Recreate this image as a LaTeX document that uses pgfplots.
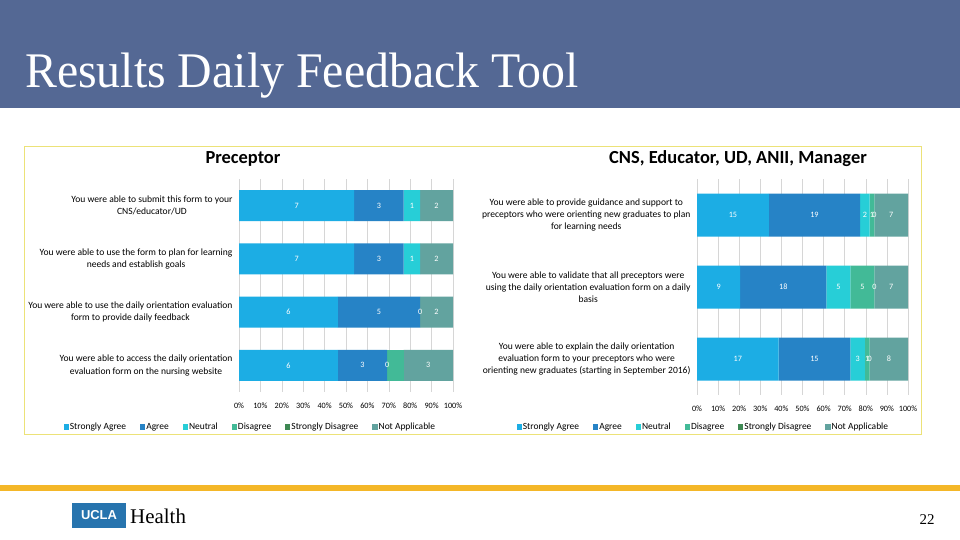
\documentclass[border=0pt]{standalone}
\usepackage{fontspec}
\setmainfont{Liberation Serif}
\newfontfamily\calibri{Carlito}
\newfontfamily\arial{Liberation Sans}
\usepackage{pgfplots}
\usepackage{pgfplotstable}
\pgfplotsset{compat=1.18}

\definecolor{banner}{RGB}{84,104,148}
\definecolor{gold}{RGB}{244,183,40}
\definecolor{frameyel}{RGB}{236,226,120}
\definecolor{uclablue}{RGB}{39,116,174}
\definecolor{cSA}{HTML}{1CADE4}
\definecolor{cA}{HTML}{2683C6}
\definecolor{cN}{HTML}{27CED7}
\definecolor{cD}{HTML}{42BA97}
\definecolor{cSD}{HTML}{3E8853}
\definecolor{cNA}{HTML}{62A39F}

% answer counts, questions numbered from the top
\pgfplotstableread{
q sa a n d sd na
0 7 3 1 0 0 2
1 7 3 1 0 0 2
2 6 5 0 0 0 2
3 6 3 0 1 0 3
}\precdata

\pgfplotstableread{
q sa a n d sd na
0 15 19 2 1 0 7
1 9 18 5 5 0 7
2 17 15 3 1 0 8
}\cnsdata

\tikzset{lblfont/.style={anchor=center, text=white, font=\calibri\fontsize{8.2}{9}\selectfont}}

\pgfplotsset{
  likert/.style={
    xbar stacked, scale only axis, y dir=reverse,
    xmin=0, ymin=-0.5,
    /pgf/number format/assume math mode=true,
    axis line style={draw=none}, tick style={draw=none},
    xmajorgrids, major grid style={draw=black!16, line width=0.6bp},
    xticklabel style={font=\calibri\fontsize{8.2}{9}\selectfont, yshift=-7bp},
    yticklabel style={font=\calibri\fontsize{9.6}{12.3}\selectfont, align=center, xshift=-3bp},
    legend columns=6,
    legend style={draw=none, fill=none, anchor=center,
      font=\calibri\fontsize{9.5}{10}\selectfont,
      nodes={inner sep=1bp},
      /tikz/every even column/.append style={column sep=13bp}},
    legend image code/.code={\fill[##1] (0bp,-2.6bp) rectangle (5.2bp,2.6bp);},
  },
  % second pass: the same stacks, invisible, carrying only the value labels
  labelpass/.style={likert, hide axis},
  lbl/.style={
    draw=none, fill=none,
    nodes near coords, point meta=explicit,
    nodes near coords={\pgfmathprintnumber{\pgfplotspointmeta}},
    every node near coord/.append style={lblfont},
  },
  nolbl/.style={draw=none, fill=none},
  % zero answers: labels at the stack boundary where the empty segment sits
  zeropass/.style={scale only axis, y dir=reverse, xmin=0, ymin=-0.5, hide axis,
    /pgf/number format/assume math mode=true},
  zerolbl/.style={draw=none, mark=none, nodes near coords, point meta=explicit,
    nodes near coords={\pgfmathprintnumber{\pgfplotspointmeta}},
    every node near coord/.append style={lblfont}},
}

\begin{document}
\begin{tikzpicture}
\useasboundingbox (0,0) rectangle (960bp,540bp);
\fill[white] (0,0) rectangle (960bp,540bp);
\fill[banner] (0,432bp) rectangle (960bp,540bp);
\node[anchor=base west, inner sep=0, text=white, font=\fontsize{50}{60}\selectfont, xscale=0.96]
  at (25bp,452bp) {Results Daily Feedback Tool};

\draw[frameyel, line width=1bp] (24bp,105bp) rectangle (921bp,393bp);
\node[font=\calibri\bfseries\fontsize{18.5}{20}\selectfont] at (243bp,381bp) {Preceptor};
\node[font=\calibri\bfseries\fontsize{18.5}{20}\selectfont] at (738bp,381bp) {CNS, Educator, UD, ANII, Manager};

% ---------- Preceptor ----------
\pgfplotsset{precgeom/.style={
  at={(239bp,148bp)}, anchor=south west,
  width=214bp, height=213bp, bar width=31bp,
  xmax=13, ymax=3.5}}
\begin{axis}[likert, precgeom,
  xtick={0,1.3,2.6,3.9,5.2,6.5,7.8,9.1,10.4,11.7,13},
  xticklabels={0\%,10\%,20\%,30\%,40\%,50\%,60\%,70\%,80\%,90\%,100\%},
  ytick={0,1,2,3},
  yticklabels={{You were able to submit this form to your\\CNS/educator/UD},
    {You were able to use the form to plan for learning\\needs and establish goals},
    {You were able to use the daily orientation evaluation\\form to provide daily feedback},
    {You were able to access the daily orientation\\evaluation form on the nursing website}},
  legend style={at={(0.051,-0.164)}},
]
\addplot[fill=cSA, draw=none] table[x=sa, y=q] {\precdata};
\addplot[fill=cA, draw=none] table[x=a, y=q] {\precdata};
\addplot[fill=cN, draw=none] table[x=n, y=q] {\precdata};
\addplot[fill=cD, draw=none] table[x=d, y=q] {\precdata};
\addplot[fill=cSD, draw=none] table[x=sd, y=q] {\precdata};
\addplot[fill=cNA, draw=none] table[x=na, y=q] {\precdata};
\legend{Strongly Agree, Agree, Neutral, Disagree, Strongly Disagree, Not Applicable}
\end{axis}
\begin{axis}[labelpass, precgeom]
\addplot[lbl] table[x=sa, y=q, meta=sa] {\precdata};
\addplot[lbl] table[x=a, y=q, meta=a] {\precdata};
\addplot[lbl] table[x=n, y=q, meta=n] {\precdata};
\addplot[nolbl] table[x=d, y=q] {\precdata};
\addplot[nolbl] table[x=sd, y=q] {\precdata};
\addplot[lbl] table[x=na, y=q, meta=na] {\precdata};
\end{axis}
\begin{axis}[zeropass, precgeom]
% Neutral = 0 for questions 3 and 4
\addplot[zerolbl] coordinates {(11,2) [0] (9,3) [0]};
\end{axis}

% ---------- CNS, Educator, UD, ANII, Manager ----------
\pgfplotsset{cnsgeom/.style={
  at={(697bp,145bp)}, anchor=south west,
  width=211bp, height=216bp, bar width=43bp,
  xmax=44, ymax=2.5}}
\begin{axis}[likert, cnsgeom,
  xtick={0,4.4,8.8,13.2,17.6,22,26.4,30.8,35.2,39.6,44},
  xticklabels={0\%,10\%,20\%,30\%,40\%,50\%,60\%,70\%,80\%,90\%,100\%},
  ytick={0,1,2},
  yticklabels={{You were able to provide guidance and support to\\preceptors who were orienting new graduates to plan\\for learning needs},
    {You were able to validate that all preceptors were\\using the daily orientation evaluation form on a daily\\basis},
    {You were able to explain the daily orientation\\evaluation form to your preceptors who were\\orienting new graduates (starting in September 2016)}},
  legend style={at={(0.028,-0.148)}},
]
\addplot[fill=cSA, draw=none] table[x=sa, y=q] {\cnsdata};
\addplot[fill=cA, draw=none] table[x=a, y=q] {\cnsdata};
\addplot[fill=cN, draw=none] table[x=n, y=q] {\cnsdata};
\addplot[fill=cD, draw=none] table[x=d, y=q] {\cnsdata};
\addplot[fill=cSD, draw=none] table[x=sd, y=q] {\cnsdata};
\addplot[fill=cNA, draw=none] table[x=na, y=q] {\cnsdata};
\legend{Strongly Agree, Agree, Neutral, Disagree, Strongly Disagree, Not Applicable}
\end{axis}
\begin{axis}[labelpass, cnsgeom]
\addplot[lbl] table[x=sa, y=q, meta=sa] {\cnsdata};
\addplot[lbl] table[x=a, y=q, meta=a] {\cnsdata};
\addplot[lbl] table[x=n, y=q, meta=n] {\cnsdata};
\addplot[lbl] table[x=d, y=q, meta=d] {\cnsdata};
\addplot[nolbl] table[x=sd, y=q] {\cnsdata};
\addplot[lbl] table[x=na, y=q, meta=na] {\cnsdata};
\end{axis}
\begin{axis}[zeropass, cnsgeom]
% Strongly Disagree = 0 for all three questions
\addplot[zerolbl] coordinates {(37,0) [0] (37,1) [0] (36,2) [0]};
\end{axis}

\fill[gold] (0,49bp) rectangle (960bp,55bp);
\fill[uclablue] (72bp,12bp) rectangle (126bp,37bp);
\node[text=white, font=\arial\bfseries\fontsize{13}{14}\selectfont] at (99bp,24.5bp) {UCLA};
\node[anchor=base west, inner sep=0, font=\fontsize{21}{24}\selectfont] at (130bp,17bp) {Health};
\node[font=\fontsize{15}{16}\selectfont] at (927bp,20bp) {22};
\end{tikzpicture}
\end{document}
